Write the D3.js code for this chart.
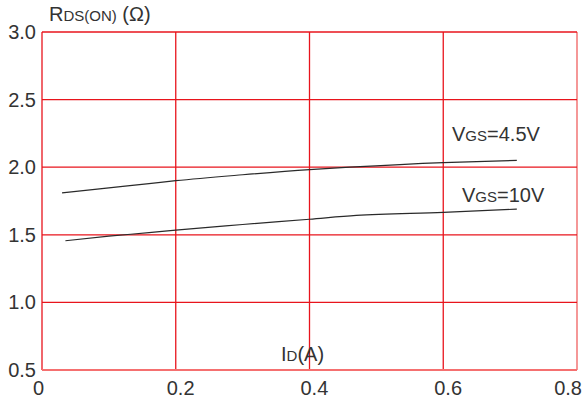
<!DOCTYPE html>
<html>
<head>
<meta charset="utf-8">
<script src="https://cdn.jsdelivr.net/npm/d3@7"></script>
<style>
  body { margin: 0; background: #fff; }
  svg text { font-family: "Liberation Sans", Arial, sans-serif; fill: #333; }
</style>
</head>
<body>
<svg id="chart" width="584" height="401"></svg>
<script>
// values
const xTicks = [0, 0.2, 0.4, 0.6, 0.8];
const yTicks = [0.5, 1.0, 1.5, 2.0, 2.5, 3.0];

const id45 = [0.03, 0.1, 0.16, 0.2, 0.3, 0.4, 0.46, 0.6, 0.71];
const r45 = [1.81, 1.847, 1.878, 1.9, 1.944, 1.982, 2.0, 2.034, 2.05];
const id10 = [0.035, 0.1, 0.16, 0.2, 0.3, 0.4, 0.47, 0.6, 0.71];
const r10 = [1.456, 1.49, 1.516, 1.535, 1.576, 1.615, 1.643, 1.666, 1.69];

(function () {
  const svg = d3.select('#chart');
  const W = 584;
  const pLeft = 42, pRight = 577, pTop = 32, pBottom = 370;

  const x = d3.scaleLinear().domain([0, 0.8]).range([pLeft, pRight]);
  const y = d3.scaleLinear().domain([0.5, 3.0]).range([pBottom, pTop]);

  const RED = '#e8141c';

  // grid
  const grid = svg.append('g');
  grid.selectAll('line.v').data(xTicks).join('line')
    .attr('class', 'v')
    .attr('x1', d => x(d)).attr('x2', d => x(d))
    .attr('y1', pTop).attr('y2', pBottom)
    .attr('stroke', (d, i) => i === xTicks.length - 1 ? '#f06060' : RED)
    .attr('stroke-width', 1.3);
  grid.selectAll('line.h').data(yTicks).join('line')
    .attr('class', 'h')
    .attr('x1', pLeft).attr('x2', pRight)
    .attr('y1', d => y(d)).attr('y2', d => y(d))
    .attr('stroke', (d, i) => i === 0 ? '#f57070' : RED)
    .attr('stroke-width', d => d === 0.5 ? 2 : 1.3);

  // tick labels: x labels start a little left of the grid line, kept inside the page
  svg.append('g').selectAll('text').data(xTicks).join('text')
    .attr('y', 395)
    .style('font-size', '20px')
    .text(d => d === 0 ? '0' : d.toFixed(1))
    .attr('x', function (d) {
      const w = this.getComputedTextLength();
      return Math.min(x(d) - 9, W - 2 - w);
    });
  svg.append('g').selectAll('text').data(yTicks).join('text')
    .attr('x', 36).attr('y', d => y(d) + 7)
    .attr('text-anchor', 'end')
    .style('font-size', '20px')
    .text(d => d.toFixed(1));

  // curves
  const line = d3.line().x(d => x(d[0])).y(d => y(d[1])).curve(d3.curveMonotoneX);
  [[id45, r45], [id10, r10]].forEach(([xs, ys]) => {
    svg.append('path')
      .datum(xs.map((v, i) => [v, ys[i]]))
      .attr('d', line)
      .attr('fill', 'none')
      .attr('stroke', '#2a2a2a')
      .attr('stroke-width', 1.2);
  });

  // labels with small subscripts
  function label(px, py, big, small, rest) {
    const t = svg.append('text').attr('x', px).attr('y', py).style('font-size', '20px');
    t.append('tspan').text(big);
    t.append('tspan').style('font-size', '15px').text(small);
    t.append('tspan').text(rest);
  }
  label(49, 21, 'R', 'DS(ON)', ' (Ω)');
  label(281, 361, 'I', 'D', '(A)');
  label(452, 141, 'V', 'GS', '=4.5V');
  label(462, 202, 'V', 'GS', '=10V');
})();
</script>
</body>
</html>
